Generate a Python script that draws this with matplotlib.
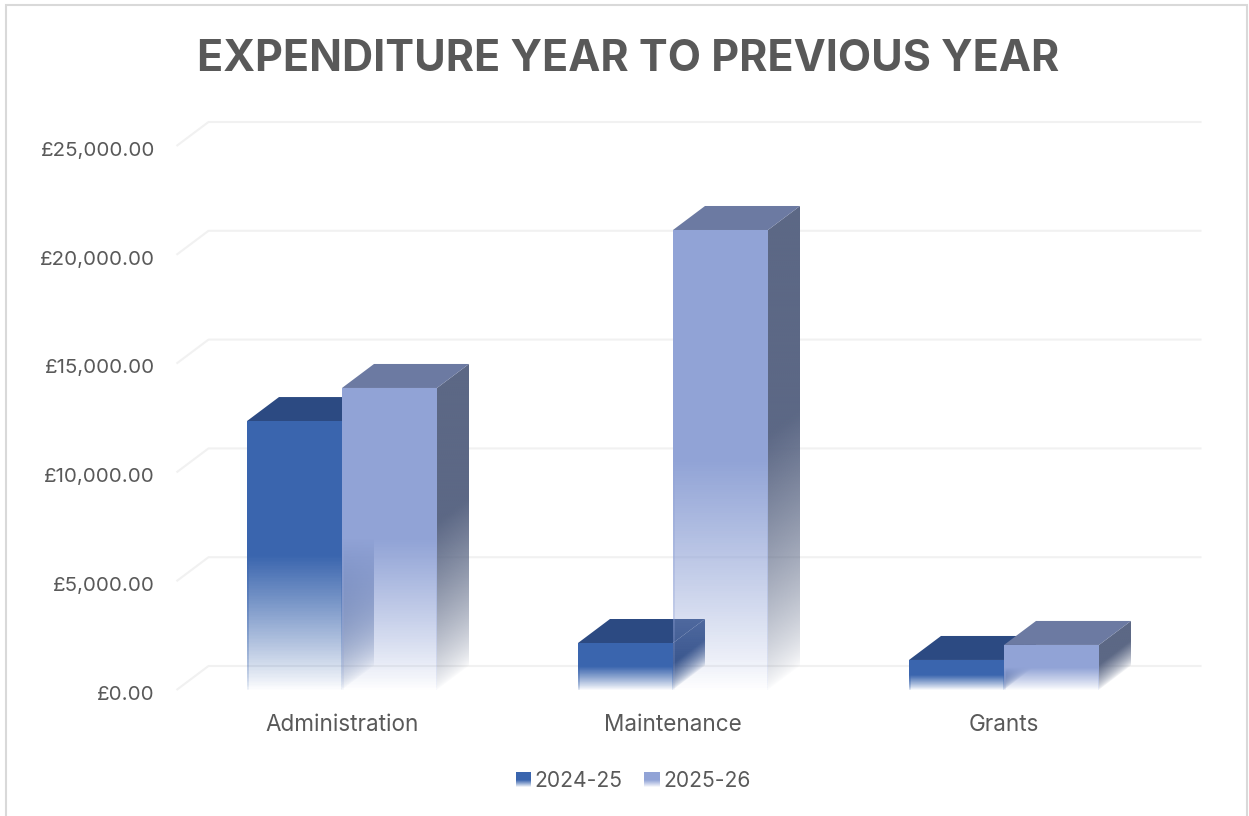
import numpy as np
import matplotlib
matplotlib.use("Agg")
import matplotlib.pyplot as plt
from matplotlib.legend_handler import HandlerBase
from matplotlib.patches import Patch, Polygon, Rectangle
from matplotlib.transforms import ScaledTranslation

categories = ["Administration", "Maintenance", "Grants"]
series_names = ["2024-25", "2025-26"]
values_2024 = [12360, 2160, 1380]
values_2025 = [13880, 21140, 2070]
tick_values = [0, 5000, 10000, 15000, 20000, 25000]
tick_labels = ["£0.00", "£5,000.00", "£10,000.00", "£15,000.00", "£20,000.00", "£25,000.00"]

W, H = 1249, 816
FONT = "Inter"
TEXT = "#595959"
FRONT = ["#3A65AE", "#91A3D6"]
TOP = ["#2C4A82", "#6C7AA2"]
SIDE = ["#2C4A82", "#5C6885"]

fig = plt.figure(figsize=(W / 100, H / 100), dpi=100, facecolor="white")
ax = fig.add_axes([176.5 / W, (H - 690) / H, 993 / W, 544 / H])
ax.set_facecolor("none")
for s in ax.spines.values():
    s.set_visible(False)

DX = 32 / 331          # depth of the 3-D box in category units
DY = 24 / 544 * 25000  # depth of the 3-D box in value units
BW = 95 / 331          # bar width in category units
EDGE = 1.5 / 331       # thin brighter edge of the front face


def fade(v, start, gamma=0.9):
    """Opacity along the height of a bar: v=0 bottom, v=1 top."""
    return np.clip(v / start, 0.0, 1.0) ** gamma


def rgba(color, alpha):
    out = np.zeros(alpha.shape + (4,))
    out[..., :3] = matplotlib.colors.to_rgb(color)
    out[..., 3] = alpha
    return out


def draw_bar(x0, value, idx, z):
    # side face: the fade is sheared along the depth direction
    ny = 260
    nx = 48
    top = value + DY
    gx = (np.arange(nx) + 0.5) / nx
    gy = (np.arange(ny) + 0.5) / ny * top
    uu, yy = np.meshgrid(gx, gy)
    vv = (yy - uu * DY) / value
    im = ax.imshow(rgba(SIDE[idx], fade(vv, 0.55, 0.7)), origin="lower", aspect="auto",
                   extent=(x0 + BW, x0 + BW + DX, 0, top), interpolation="bilinear", zorder=z)
    clip = Polygon([(x0 + BW, 0), (x0 + BW + DX, DY), (x0 + BW + DX, top), (x0 + BW, value)],
                   closed=True, transform=ax.transData)
    im.set_clip_path(clip)
    # top face
    ax.add_patch(Polygon([(x0, value), (x0 + BW, value),
                          (x0 + BW + DX, value + DY), (x0 + DX, value + DY)],
                         closed=True, fc=TOP[idx], ec="none", zorder=z + 0.1, clip_on=False))
    # front face, with brighter thin edges that fade more slowly
    n = 200
    v_edges = np.linspace(0, 1, n + 1)
    v_mid = (v_edges[:-1] + v_edges[1:]) / 2
    a = fade(v_mid, 0.5)
    cols = np.stack([a ** 0.6, a, a ** 0.6], axis=1)
    xs = np.array([x0, x0 + EDGE, x0 + BW - EDGE, x0 + BW])
    ax.pcolormesh(xs, v_edges * value, rgba(FRONT[idx], cols),
                  shading="flat", antialiased=False, zorder=z + 0.2, clip_on=False)


# gridlines: diagonal on the side wall, horizontal on the back wall
for t in tick_values:
    ax.plot([-0.5, -0.5 + DX, 2.5 + 32 / 331], [t, t + DY, t + DY],
            color="#F1F1F1", lw=1.5, zorder=1, clip_on=False, solid_capstyle="butt")

for i, (a, b) in enumerate(zip(values_2024, values_2025)):
    draw_bar(i - BW, a, 0, 2 + i * 2)
    draw_bar(i, b, 1, 3 + i * 2)

ax.set_xlim(-0.5, 2.5)
ax.set_ylim(0, 25000)
ax.set_yticks(tick_values, tick_labels)
ax.set_xticks(range(len(categories)), categories)
ax.tick_params(axis="y", length=0, pad=15.5, labelsize=14.8, labelcolor=TEXT)
ax.tick_params(axis="x", length=0, pad=17, labelsize=16.2, labelcolor=TEXT)
for lab in ax.get_xticklabels() + ax.get_yticklabels():
    lab.set_fontfamily(FONT)
ydown = ScaledTranslation(0, -2.0 / 72, fig.dpi_scale_trans)
for lab in ax.get_yticklabels():
    lab.set_transform(lab.get_transform() + ydown)

fig.text(628 / W, 1 - 71 / H, "EXPENDITURE YEAR TO PREVIOUS YEAR", ha="center", va="baseline",
         fontsize=31, fontweight="bold", color=TEXT, family=FONT)


class GradientKey(HandlerBase):
    def create_artists(self, legend, orig, xd, yd, width, height, fontsize, trans):
        out = []
        n = 14
        for k in range(n):
            v = (k + 0.5) / n
            out.append(Rectangle((-xd, -yd + height * k / n), width, height / n,
                                 fc=orig.get_facecolor(), ec="none",
                                 alpha=float(fade(v, 0.5)), transform=trans))
        return out


handles = [Patch(facecolor=c, label=n) for c, n in zip(FRONT, series_names)]
leg = ax.legend(handles=handles, handler_map={Patch: GradientKey()}, ncol=2, frameon=False,
                loc="center", bbox_to_anchor=(633 / W, 1 - 781 / H), bbox_transform=fig.transFigure,
                prop={"family": FONT, "size": 15.2}, labelcolor=TEXT,
                handlelength=0.72, handleheight=0.72, handletextpad=0.16, columnspacing=1.05)

# chart area border
fig.add_artist(Rectangle((6 / W, -0.01), 1241 / W, 1.01 - 4.5 / H, transform=fig.transFigure,
                         fc="none", ec="#D9D9D9", lw=1.5, zorder=0))

fig.savefig("out.png", dpi=100, facecolor="white")
